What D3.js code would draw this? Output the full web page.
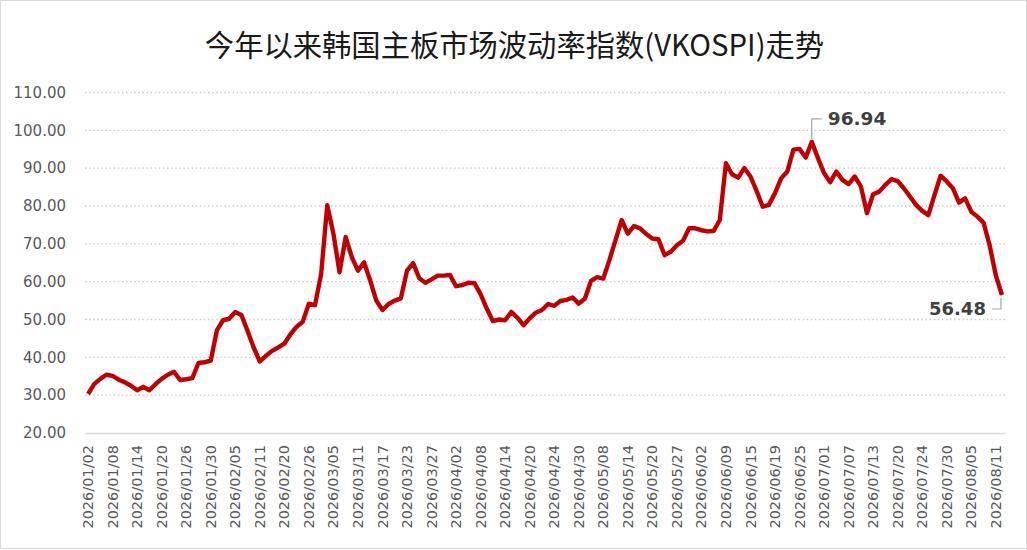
<!DOCTYPE html>
<html>
<head>
<meta charset="utf-8">
<script src="https://cdn.jsdelivr.net/npm/d3@7"></script>
<style>
  html, body { margin: 0; padding: 0; background: #fff; }
  .ytick text, .xtick text { font-family: "DejaVu Sans", sans-serif; fill: #595959; }
</style>
</head>
<body>
<div class="main"></div>
<script>
////Globals
const width = 1027;
const height = 550;
const title = '今年以来韩国主板市场波动率指数(VKOSPI)走势';

// KRX trading days, 2026
const dates = [
  '2026/01/02','2026/01/05','2026/01/06','2026/01/07','2026/01/08','2026/01/09',
  '2026/01/12','2026/01/13','2026/01/14','2026/01/15','2026/01/16',
  '2026/01/19','2026/01/20','2026/01/21','2026/01/22','2026/01/23',
  '2026/01/26','2026/01/27','2026/01/28','2026/01/29','2026/01/30',
  '2026/02/02','2026/02/03','2026/02/04','2026/02/05','2026/02/06',
  '2026/02/09','2026/02/10','2026/02/11','2026/02/12','2026/02/13',
  '2026/02/19','2026/02/20',
  '2026/02/23','2026/02/24','2026/02/25','2026/02/26','2026/02/27',
  '2026/03/03','2026/03/04','2026/03/05','2026/03/06',
  '2026/03/09','2026/03/10','2026/03/11','2026/03/12','2026/03/13',
  '2026/03/16','2026/03/17','2026/03/18','2026/03/19','2026/03/20',
  '2026/03/23','2026/03/24','2026/03/25','2026/03/26','2026/03/27',
  '2026/03/30','2026/03/31',
  '2026/04/01','2026/04/02','2026/04/03',
  '2026/04/06','2026/04/07','2026/04/08','2026/04/09','2026/04/10',
  '2026/04/13','2026/04/14','2026/04/15','2026/04/16','2026/04/17',
  '2026/04/20','2026/04/21','2026/04/22','2026/04/23','2026/04/24',
  '2026/04/27','2026/04/28','2026/04/29','2026/04/30',
  '2026/05/04','2026/05/06','2026/05/07','2026/05/08',
  '2026/05/11','2026/05/12','2026/05/13','2026/05/14','2026/05/15',
  '2026/05/18','2026/05/19','2026/05/20','2026/05/21','2026/05/22',
  '2026/05/26','2026/05/27','2026/05/28','2026/05/29',
  '2026/06/01','2026/06/02','2026/06/04','2026/06/05',
  '2026/06/08','2026/06/09','2026/06/10','2026/06/11','2026/06/12',
  '2026/06/15','2026/06/16','2026/06/17','2026/06/18','2026/06/19',
  '2026/06/22','2026/06/23','2026/06/24','2026/06/25','2026/06/26',
  '2026/06/29','2026/06/30',
  '2026/07/01','2026/07/02','2026/07/03',
  '2026/07/06','2026/07/07','2026/07/08','2026/07/09','2026/07/10',
  '2026/07/13','2026/07/14','2026/07/15','2026/07/16',
  '2026/07/20','2026/07/21','2026/07/22','2026/07/23','2026/07/24',
  '2026/07/27','2026/07/28','2026/07/29','2026/07/30','2026/07/31',
  '2026/08/03','2026/08/04','2026/08/05','2026/08/06','2026/08/07',
  '2026/08/10','2026/08/11','2026/08/12'
];

const vkospi = [
  30.3, 32.9, 34.3, 35.4, 35.1, 34.1, 33.4, 32.5, 31.3, 32.2,
  31.3, 32.9, 34.3, 35.4, 36.2, 34.0, 34.2, 34.5, 38.5, 38.7,
  39.1, 47.1, 49.8, 50.2, 52.0, 51.2, 47.0, 42.6, 38.9, 40.4,
  41.7, 42.6, 43.6, 46.1, 48.1, 49.4, 54.2, 53.8, 62.0, 80.2,
  72.7, 62.5, 71.8, 66.5, 62.9, 65.1, 60.3, 55.0, 52.5, 54.1,
  55.0, 55.6, 62.9, 64.9, 60.9, 59.7, 60.6, 61.6, 61.6, 61.8,
  58.8, 59.1, 59.7, 59.6, 56.7, 52.9, 49.6, 50.0, 49.8, 52.0,
  50.5, 48.5, 50.3, 51.8, 52.5, 54.1, 53.6, 54.9, 55.2, 55.8,
  54.2, 55.5, 60.2, 61.2, 60.8, 65.7, 71.0, 76.3, 72.7, 74.7,
  74.1, 72.6, 71.4, 71.2, 67.0, 67.9, 69.6, 70.8, 74.1, 74.1,
  73.6, 73.3, 73.4, 76.3, 91.3, 88.4, 87.5, 90.0, 87.8, 84.0,
  79.8, 80.3, 83.4, 87.3, 89.1, 94.9, 95.1, 92.8, 96.94, 92.7,
  88.7, 86.3, 89.1, 86.9, 85.8, 87.8, 85.2, 78.1, 83.1, 83.8,
  85.6, 87.1, 86.6, 84.7, 82.5, 80.3, 78.7, 77.6, 82.9, 88.0,
  86.5, 84.7, 80.9, 82.0, 78.5, 77.2, 75.6, 69.6, 61.7, 56.48
];

const yTicks = [20, 30, 40, 50, 60, 70, 80, 90, 100, 110];
const xTickLabels = [
  '2026/01/02','2026/01/08','2026/01/14','2026/01/20','2026/01/26','2026/01/30',
  '2026/02/05','2026/02/11','2026/02/20','2026/02/26','2026/03/05','2026/03/11',
  '2026/03/17','2026/03/23','2026/03/27','2026/04/02','2026/04/08','2026/04/14',
  '2026/04/20','2026/04/24','2026/04/30','2026/05/08','2026/05/14','2026/05/20',
  '2026/05/27','2026/06/02','2026/06/09','2026/06/15','2026/06/19','2026/06/25',
  '2026/07/01','2026/07/07','2026/07/13','2026/07/20','2026/07/24','2026/07/30',
  '2026/08/05','2026/08/11'
];
// data labels shown on the chart
const labelled = ['2026/06/29', '2026/08/12'];

const data = dates.map((d, i) => ({ date: d, value: vkospi[i] }));

const svg = d3.select('.main').append('svg')
  .attr('width', width)
  .attr('height', height);

// chart area border
svg.append('rect')
  .attr('x', 0.5).attr('y', 0.5)
  .attr('width', width - 1).attr('height', height - 2)
  .attr('fill', '#fff')
  .attr('stroke', '#d9d9d9');

const x = d3.scaleBand().domain(dates).range([85, 1005]);
const y = d3.scaleLinear().domain([20, 110]).range([433, 92.5]);
const cx = d => x(d) + x.bandwidth() / 2;

svg.append('text')
  .attr('x', width / 2 + 1)
  .attr('y', 56)
  .attr('text-anchor', 'middle')
  .attr('font-family', '"Noto Sans CJK SC", sans-serif')
  .attr('font-size', 29.3)
  .attr('fill', '#1a1a1a')
  .text(title);

// gridlines
svg.append('g')
  .selectAll('line')
  .data(yTicks.slice(1))
  .enter()
  .append('line')
  .attr('x1', 85).attr('x2', 1005)
  .attr('y1', d => y(d)).attr('y2', d => y(d))
  .attr('stroke', '#c9c9c9')
  .attr('stroke-width', 1.4)
  .attr('stroke-dasharray', '1.5,2.6');

// y axis labels
const yAxis = svg.append('g')
  .attr('class', 'ytick')
  .attr('transform', 'translate(85,0)')
  .call(d3.axisLeft(y).tickValues(yTicks).tickFormat(d3.format('.2f')).tickSize(0).tickPadding(19));
yAxis.select('.domain').remove();
yAxis.selectAll('text').attr('font-size', 15);

// x axis
const xAxis = svg.append('g')
  .attr('class', 'xtick')
  .attr('transform', 'translate(0,433)')
  .call(d3.axisBottom(x).tickValues(xTickLabels).tickSize(0));
xAxis.select('.domain')
  .attr('stroke', '#d9d9d9')
  .attr('stroke-width', 1.5);
xAxis.selectAll('text')
  .attr('font-size', 14.5)
  .attr('text-anchor', 'end')
  .attr('dy', '0.35em')
  .attr('transform', 'translate(0,12) rotate(-90)')
  .attr('x', 0)
  .attr('y', 0);

// line
const line = d3.line()
  .x(d => cx(d.date))
  .y(d => y(d.value));

svg.append('path')
  .datum(data)
  .attr('fill', 'none')
  .attr('stroke', '#c00000')
  .attr('stroke-width', 4.4)
  .attr('stroke-linejoin', 'round')
  .attr('d', line);

// data labels with leader lines
const peak = data.find(d => d.date === labelled[0]);
const last = data.find(d => d.date === labelled[1]);
const px = cx(peak.date), py = y(peak.value);
const lx = cx(last.date), ly = y(last.value);

svg.append('path')
  .attr('fill', 'none')
  .attr('stroke', '#a6a6a6')
  .attr('stroke-width', 1.2)
  .attr('d', `M${px},${py - 3}V${py - 23}H${px + 10}`);
svg.append('text')
  .attr('x', px + 16)
  .attr('y', py - 23)
  .attr('dy', '0.35em')
  .attr('font-family', '"DejaVu Sans", sans-serif')
  .attr('font-weight', 'bold')
  .attr('font-size', 18.5)
  .attr('fill', '#404040')
  .text(peak.value.toFixed(2));

svg.append('path')
  .attr('fill', 'none')
  .attr('stroke', '#a6a6a6')
  .attr('stroke-width', 1.2)
  .attr('d', `M${lx - 1},${ly + 3}V${ly + 14}H${lx - 10}`);
svg.append('text')
  .attr('x', lx - 16)
  .attr('y', ly + 14)
  .attr('dy', '0.35em')
  .attr('text-anchor', 'end')
  .attr('font-family', '"DejaVu Sans", sans-serif')
  .attr('font-weight', 'bold')
  .attr('font-size', 18)
  .attr('fill', '#404040')
  .text(last.value.toFixed(2));
</script>
</body>
</html>
